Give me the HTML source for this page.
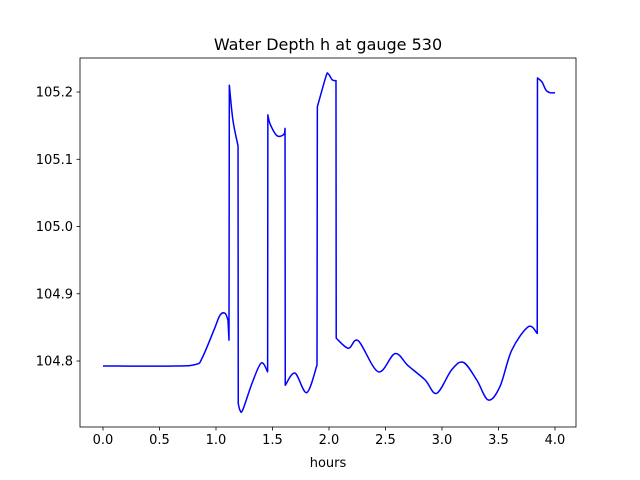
<!DOCTYPE html>
<html><head><meta charset="utf-8"><style>
body{margin:0;background:#fff}
svg{display:block;font-family:"DejaVu Sans","Liberation Sans",sans-serif}
</style></head><body>
<svg id="chart" width="640" height="480" viewBox="0 0 640 480">
<rect width="640" height="480" fill="#fff"/>
<text x="328" y="50" text-anchor="middle" font-size="16">Water Depth h at gauge 530</text>
<g id="axes"></g>
<text x="328" y="467" text-anchor="middle" font-size="13">hours</text>
</svg>
<script>
const hours=[0,0.637,0.823,0.876,0.982,1.035,1.08,1.106,1.115,1.118,1.15,1.195,1.197,1.212,1.236,1.319,1.40,1.457,1.459,1.48,1.54,1.60,1.611,1.613,1.699,1.803,1.894,1.897,1.973,1.994,2.03,2.062,2.064,2.171,2.26,2.436,2.584,2.70,2.85,2.953,3.086,3.189,3.307,3.41,3.513,3.617,3.764,3.843,3.845,3.885,3.92,3.956,4.0];
const depth=[104.7926,104.7926,104.795,104.804,104.846,104.868,104.871,104.861,104.831,105.210,105.158,105.120,104.737,104.727,104.727,104.767,104.797,104.784,105.166,105.152,105.135,105.137,105.146,104.764,104.782,104.753,104.794,105.178,105.223,105.227,105.218,105.217,104.834,104.819,104.830,104.784,104.811,104.793,104.772,104.752,104.787,104.798,104.772,104.742,104.762,104.816,104.851,104.841,105.221,105.215,105.203,105.199,105.199];
const xTicks=[0,0.5,1,1.5,2,2.5,3,3.5,4];
const yTicks=[104.8,104.9,105.0,105.1,105.2];
const xTickLabels=["0.0","0.5","1.0","1.5","2.0","2.5","3.0","3.5","4.0"];
const yTickLabels=["104.8","104.9","105.0","105.1","105.2"];
const L=80,R=576,T=58,B=427;
const xMin=-0.2035,xMax=4.186,yMin=104.7019,yMax=105.2506;
const sx=v=>L+(v-xMin)/(xMax-xMin)*(R-L);
const sy=v=>B-(v-yMin)/(yMax-yMin)*(B-T);
const NS="http://www.w3.org/2000/svg";
const g=document.getElementById('axes');
function mk(t,a){const e=document.createElementNS(NS,t);for(const k in a)e.setAttribute(k,a[k]);g.appendChild(e);return e;}
// split into smooth segments at vertical jumps
const P=hours.map((h,i)=>[sx(h),sy(depth[i])]);
const segs=[];let cur=[P[0]];
for(let i=1;i<P.length;i++){
  if(hours[i]-hours[i-1]<0.01){segs.push(cur);cur=[P[i]];}
  else cur.push(P[i]);
}
segs.push(cur);
let d="M"+P[0][0].toFixed(2)+","+P[0][1].toFixed(2);
segs.forEach((s,si)=>{
  if(si>0)d+=" L"+s[0][0].toFixed(2)+","+s[0][1].toFixed(2);
  for(let i=0;i<s.length-1;i++){
    const p0=s[i-1]||s[i],p1=s[i],p2=s[i+1],p3=s[i+2]||s[i+1];
    const c1=[p1[0]+(p2[0]-p0[0])/6,p1[1]+(p2[1]-p0[1])/6];
    const c2=[p2[0]-(p3[0]-p1[0])/6,p2[1]-(p3[1]-p1[1])/6];
    d+=" C"+c1.map(v=>v.toFixed(2))+" "+c2.map(v=>v.toFixed(2))+" "+p2.map(v=>v.toFixed(2));
  }
});
const line=mk('path',{d:d,fill:"none",stroke:"#0000ff","stroke-width":1.5,"stroke-linejoin":"round"});


const frame=mk('rect',{x:L,y:T,width:R-L,height:B-T,fill:"none",stroke:"#000","stroke-width":0.8});


xTicks.forEach((v,i)=>{const x=sx(v);
const t=mk('line',{x1:x,x2:x,y1:B,y2:B+3.5,stroke:"#000","stroke-width":0.8});


const l=mk('text',{x:x,y:B+17,"text-anchor":"middle","font-size":13});
l.textContent=xTickLabels[i];

});
yTicks.forEach((v,i)=>{const y=sy(v);
const t=mk('line',{x1:L-3.5,x2:L,y1:y,y2:y,stroke:"#000","stroke-width":0.8});


const l=mk('text',{x:L-7,y:y+4.5,"text-anchor":"end","font-size":13});
l.textContent=yTickLabels[i];

});
</script>
</body></html>
